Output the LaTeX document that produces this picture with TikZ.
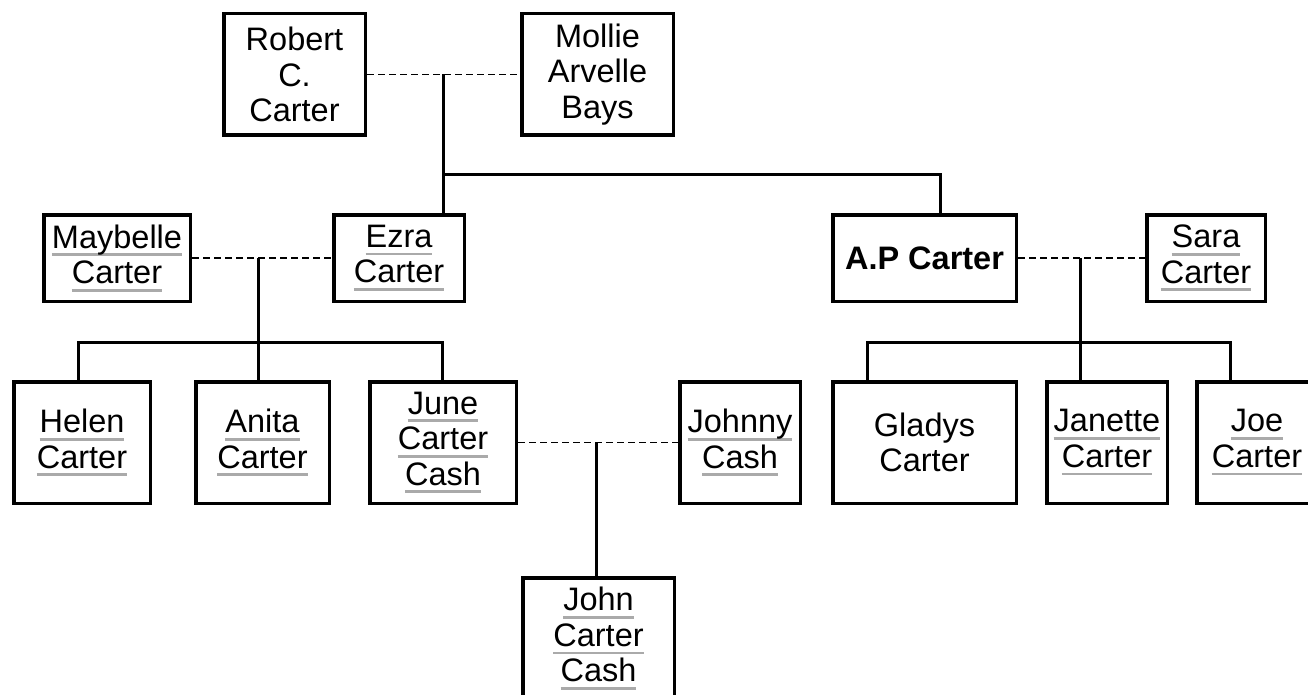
\documentclass[tikz,border=0pt]{standalone}
\usepackage{fontspec}
\setmainfont{Liberation Sans}
\definecolor{ulgray}{HTML}{AAAAAA}
\newcommand{\gul}[1]{\setbox0\hbox{#1}\leavevmode\rlap{\color{ulgray}\rule[-8pt]{\wd0}{2.7pt}}\box0}
\tikzset{
  person/.style={draw, line width=3.5pt, align=center, inner sep=0pt,
    font=\fontsize{32.5}{35.5}\selectfont},
  conn/.style={line width=3pt},
  marriage/.style={line width=1.8pt, dash pattern=on 7pt off 4pt}
}
\begin{document}
\begin{tikzpicture}[x=1pt,y=-1pt]
\clip (0,0) rectangle (1308,695);
\fill[white] (0,0) rectangle (1308,695);
% generation 1
\node[person, minimum width=141.5pt, minimum height=121.5pt] (robert) at (294.5,74.5) {Robert\\C.\\Carter};
\node[person, minimum width=151.5pt, minimum height=121.5pt] (mollie) at (597.5,74.5) {Mollie\\Arvelle\\Bays};
% generation 2
\node[person, minimum width=146.5pt, minimum height=86.5pt] (maybelle) at (117,258) {\gul{Maybelle}\\\gul{Carter}};
\node[person, minimum width=130.5pt, minimum height=86.5pt] (ezra) at (399,258) {\gul{Ezra}\\\gul{Carter}};
\node[person, minimum width=183.5pt, minimum height=86.5pt] (ap) at (924.5,258) {\textbf{A.P Carter}};
\node[person, minimum width=118.5pt, minimum height=86.5pt] (sara) at (1206,258) {\gul{Sara}\\\gul{Carter}};
% generation 3
\node[person, minimum width=136.5pt, minimum height=121.5pt] (helen) at (82,442.5) {\gul{Helen}\\\gul{Carter}};
\node[person, minimum width=133.5pt, minimum height=121.5pt] (anita) at (262.5,442.5) {\gul{Anita}\\\gul{Carter}};
\node[person, minimum width=146.5pt, minimum height=121.5pt] (june) at (443,442.5) {\gul{June}\\\gul{Carter}\\\gul{Cash}};
\node[person, minimum width=120.5pt, minimum height=121.5pt] (johnny) at (740,442.5) {\gul{Johnny}\\\gul{Cash}};
\node[person, minimum width=183.5pt, minimum height=121.5pt] (gladys) at (924.5,442.5) {Gladys\\Carter};
\node[person, minimum width=120.5pt, minimum height=121.5pt] (janette) at (1107,442.5) {\gul{Janette}\\\gul{Carter}};
\node[person, minimum width=120.5pt, minimum height=121.5pt] (joe) at (1257,442.5) {\gul{Joe}\\\gul{Carter}};
% generation 4
\node[person, minimum width=151.5pt, minimum height=121.5pt] (john) at (598.5,638.5) {\gul{John}\\\gul{Carter}\\\gul{Cash}};
% marriages
\draw[marriage] (robert) -- (mollie);
\draw[marriage] (maybelle) -- (ezra);
\draw[marriage] (ap) -- (sara);
\draw[marriage] (june) -- (johnny);
% descent coordinates
\coordinate (m1) at (443,74.5);
\coordinate (b1) at (443,175);
\coordinate (b1r) at (940,175);
\coordinate (m2) at (258,258);
\coordinate (b2l) at (78,342);
\coordinate (b2r) at (442,342);
\coordinate (m4) at (1080,258);
\coordinate (b4l) at (867,342);
\coordinate (b4r) at (1230,342);
\coordinate (m3) at (596,442.5);
% descent lines
\draw[conn] (m1) -- (m1 |- ezra.north);
\draw[conn] (b1) -- (b1r) -- (b1r |- ap.north);
\draw[conn] (m2) -- (m2 |- anita.north);
\draw[conn] (b2l |- helen.north) -- (b2l) -- (b2r) -- (b2r |- june.north);
\draw[conn] (m4) -- (m4 |- janette.north);
\draw[conn] (b4l |- gladys.north) -- (b4l) -- (b4r) -- (b4r |- joe.north);
\draw[conn] (m3) -- (m3 |- john.north);
\end{tikzpicture}
\end{document}
